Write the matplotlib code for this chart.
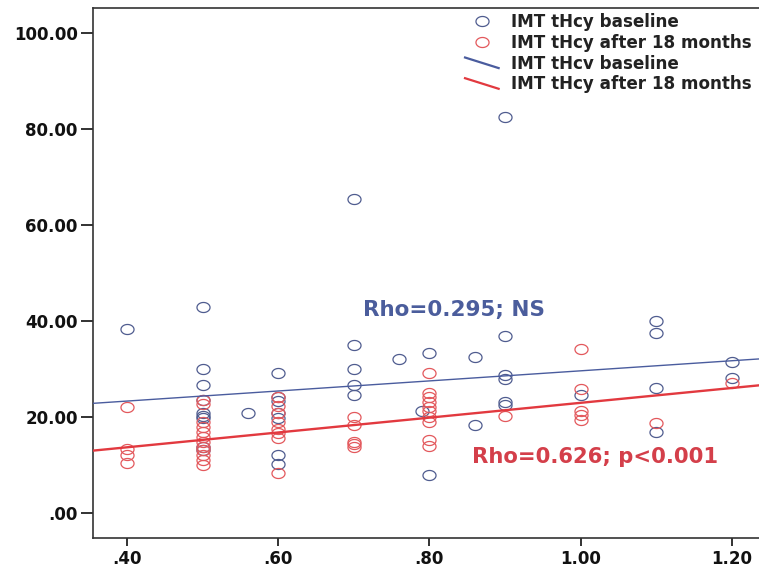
import numpy as np
import matplotlib
matplotlib.use("Agg")
import matplotlib.pyplot as plt
from matplotlib.path import Path
from matplotlib.lines import Line2D
from matplotlib.legend_handler import HandlerBase

# IMT vs tHcy
base_x = [0.40,
          0.50, 0.50, 0.50, 0.50, 0.50, 0.50, 0.50, 0.50, 0.50,
          0.56,
          0.60, 0.60, 0.60, 0.60, 0.60, 0.60, 0.60,
          0.70, 0.70, 0.70, 0.70, 0.70,
          0.76, 0.79, 0.80, 0.80,
          0.86, 0.86,
          0.90, 0.90, 0.90, 0.90, 0.90, 0.90,
          1.00,
          1.10, 1.10, 1.10, 1.10,
          1.20, 1.20]
base_y = [38.3,
          43.0, 30.0, 26.7, 23.5, 20.8, 20.3, 19.8, 13.8, 13.1,
          20.9,
          29.2, 24.2, 23.4, 20.8, 19.9, 12.1, 10.3,
          65.4, 35.0, 29.9, 26.7, 24.6,
          32.0, 21.3, 33.3, 7.9,
          32.6, 18.3,
          82.5, 36.9, 28.7, 28.0, 23.2, 22.5,
          24.6,
          40.0, 37.4, 26.1, 16.9,
          31.5, 28.2]

after_x = [0.40, 0.40, 0.40, 0.40,
           0.50, 0.50, 0.50, 0.50, 0.50, 0.50, 0.50, 0.50, 0.50, 0.50, 0.50, 0.50,
           0.60, 0.60, 0.60, 0.60, 0.60, 0.60, 0.60, 0.60,
           0.70, 0.70, 0.70, 0.70, 0.70,
           0.80, 0.80, 0.80, 0.80, 0.80, 0.80, 0.80, 0.80, 0.80, 0.80,
           0.90,
           1.00, 1.00, 1.00, 1.00, 1.00,
           1.10,
           1.20]
after_y = [22.1, 13.3, 12.1, 10.4,
           23.5, 22.7, 19.0, 18.0, 16.9, 15.9, 14.9, 13.8, 13.1, 12.1, 11.0, 10.0,
           24.2, 22.3, 20.8, 19.0, 17.6, 16.6, 15.6, 8.3,
           20.1, 18.3, 14.9, 14.3, 13.8,
           29.1, 24.9, 24.1, 23.2, 22.1, 21.3, 20.1, 19.0, 15.2, 14.0,
           20.2,
           34.2, 25.8, 21.2, 20.4, 19.4,
           18.8,
           27.0]

# fit lines (ends at the axis limits)
fit_x = [0.355, 1.236]
base_fit = [22.85, 32.1]
after_fit = [13.0, 26.6]

xticks = [0.4, 0.6, 0.8, 1.0, 1.2]
xlabels = [".40", ".60", ".80", "1.00", "1.20"]
yticks = [0, 20, 40, 60, 80, 100]
ylabels = [".00", "20.00", "40.00", "60.00", "80.00", "100.00"]

legend_labels = ["IMT tHcy baseline", "IMT tHcy after 18 months",
                 "IMT tHcv baseline", "IMT tHcy after 18 months"]

BLUE = "#4f5c8f"
RED = "#e3585c"
BLUE_LINE = "#4a5c9e"
RED_LINE = "#e2393f"

plt.rcParams["font.family"] = ["DejaVu Sans"]
plt.rcParams["font.weight"] = "bold"

# circles in the source are a bit squashed
t = np.linspace(0, 2 * np.pi, 60)
oval = Path(np.column_stack([1.3 * np.cos(t), np.sin(t)]), closed=True)


class DiagHandler(HandlerBase):
    def create_artists(self, legend, orig, xdescent, ydescent, width, height, fontsize, trans):
        x0, y0 = -xdescent, -ydescent
        ln = Line2D([x0, x0 + width], [y0 + height * 0.95, y0 + height * 0.05],
                    color=orig.get_color(), lw=orig.get_linewidth(), transform=trans)
        return [ln]


fig = plt.figure(figsize=(7.59, 5.69), dpi=100)
ax = fig.add_axes([93 / 759, 1 - 538 / 569, 666 / 759, 530 / 569])

ax.plot(base_x, base_y, ls="none", marker=oval, ms=9.4, mfc="none", mec=BLUE, mew=0.9, zorder=2)
ax.plot(after_x, after_y, ls="none", marker=oval, ms=9.4, mfc="none", mec=RED, mew=0.9, zorder=2)
ax.plot(fit_x, base_fit, color=BLUE_LINE, lw=1.0, zorder=3)
ax.plot(fit_x, after_fit, color=RED_LINE, lw=1.7, zorder=3)

ax.text(0.712, 42.3, "Rho=0.295; NS", color="#4b5d9c", fontsize=15.5, fontweight="bold", va="center")
ax.text(0.856, 11.6, "Rho=0.626; p<0.001", color="#d43f4a", fontsize=15.2, fontweight="bold", va="center")

ax.set_xlim(fit_x[0], fit_x[1])
ax.set_ylim(-5.2, 105.2)
ax.set_xticks(xticks, xlabels)
ax.set_yticks(yticks, ylabels)
ax.tick_params(axis="both", labelsize=12, colors="#222222", width=1.3)
ax.tick_params(axis="y", length=9, pad=2)
ax.tick_params(axis="x", length=6, pad=3)
for lab in ax.get_xticklabels() + ax.get_yticklabels():
    lab.set_fontweight("bold")
    lab.set_color("#111111")
for side in ["left", "bottom", "top"]:
    ax.spines[side].set_color("#333333")
    ax.spines[side].set_linewidth(1.2)
ax.spines["right"].set_visible(False)

handles = [
    Line2D([], [], ls="none", marker=oval, ms=9.4, mfc="none", mec=BLUE, mew=0.9),
    Line2D([], [], ls="none", marker=oval, ms=9.4, mfc="none", mec=RED, mew=0.9),
    Line2D([], [], color=BLUE_LINE, lw=1.6),
    Line2D([], [], color=RED_LINE, lw=1.6),
]
leg = ax.legend(handles, legend_labels, loc="upper left", bbox_to_anchor=(0.5586, 0.99),
                frameon=False, borderpad=0, borderaxespad=0, handlelength=2.0,
                handletextpad=0.75, labelspacing=0.16, fontsize=12.1,
                handler_map={handles[2]: DiagHandler(), handles[3]: DiagHandler()})
for txt in leg.get_texts():
    txt.set_fontweight("bold")
    txt.set_color("#222222")

fig.savefig("out.png", dpi=100)
